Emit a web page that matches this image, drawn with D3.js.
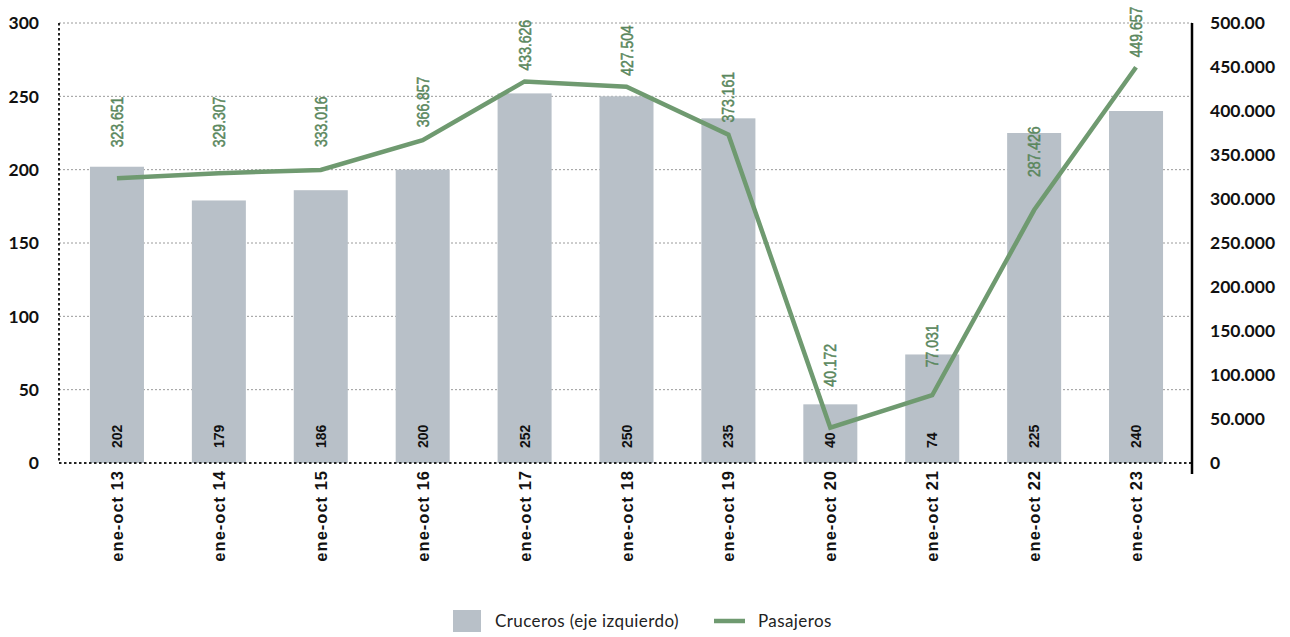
<!DOCTYPE html>
<html><head><meta charset="utf-8">
<script src="https://cdn.jsdelivr.net/npm/d3@7"></script>
<style>body{margin:0;background:#fff}svg{display:block}</style>
</head><body>
<svg id="c" width="1290" height="637"></svg>
<script>
const categories = ["ene-oct 13","ene-oct 14","ene-oct 15","ene-oct 16","ene-oct 17","ene-oct 18","ene-oct 19","ene-oct 20","ene-oct 21","ene-oct 22","ene-oct 23"];
const cruceros = [202,179,186,200,252,250,235,40,74,225,240];
const pasajeros = [323651,329307,333016,366857,433626,427504,373161,40172,77031,287426,449657];
const leftTicks = [0,50,100,150,200,250,300];
const rightTicks = [0,50000,100000,150000,200000,250000,300000,350000,400000,450000,500000];
const rightTickLabels = ["0","50.000","100.000","150.000","200.000","250.000","300.000","350.000","400.000","450.000","500.00"];

const svg = d3.select("#c");
const x0 = 59, x1 = 1192, yTop = 23, yBot = 463;
const x = d3.scaleBand().domain(categories).range([66,1187]).paddingInner(0.47).paddingOuter(0.235);
const yL = d3.scaleLinear().domain([0,300]).range([yBot,yTop]);
const yR = d3.scaleLinear().domain([0,500000]).range([yBot,yTop]);
const fmt = v => d3.format(",")(v).replace(/,/g,".");
const green = "#6f9a70", labGreen = "#5a875d", barC = "#b8c0c8";
const axisFont = "Lato, 'Noto Sans', sans-serif";

// gridlines
svg.append("g").selectAll("line").data(leftTicks.filter(d=>d>0)).join("line")
  .attr("x1",x0).attr("x2",x1).attr("y1",d=>yL(d)).attr("y2",d=>yL(d))
  .attr("stroke","#9a9a9a").attr("stroke-width",1).attr("stroke-dasharray","2,2");

// bars
svg.append("g").selectAll("rect").data(cruceros).join("rect")
  .attr("x",(d,i)=>x(categories[i])).attr("width",x.bandwidth())
  .attr("y",d=>yL(d)).attr("height",d=>yBot-yL(d)).attr("fill",barC);

// axes lines
svg.append("line").attr("x1",x0).attr("x2",x0).attr("y1",yTop).attr("y2",yBot)
  .attr("stroke","#222").attr("stroke-width",2).attr("stroke-dasharray","2.5,2.5");
svg.append("line").attr("x1",x0).attr("x2",x1).attr("y1",yBot).attr("y2",yBot)
  .attr("stroke","#222").attr("stroke-width",2).attr("stroke-dasharray","2.5,2.5");
svg.append("line").attr("x1",x1).attr("x2",x1).attr("y1",yTop).attr("y2",474)
  .attr("stroke","#000").attr("stroke-width",2.5);

// left axis labels
svg.append("g").selectAll("text").data(leftTicks).join("text")
  .attr("x",39).attr("y",d=>yL(d)).attr("dy","0.36em").attr("text-anchor","end")
  .attr("font-family",axisFont).attr("font-weight","bold").attr("font-size",17.5).attr("fill","#111")
  .text(d=>d);
// right axis labels
svg.append("g").selectAll("text").data(rightTicks).join("text")
  .attr("x",1210).attr("y",d=>yR(d)).attr("dy","0.36em").attr("text-anchor","start")
  .attr("font-family",axisFont).attr("font-weight","bold").attr("font-size",17.5).attr("fill","#111")
  .text((d,i)=>rightTickLabels[i]);

// category labels
const cx = c => x(c)+x.bandwidth()/2;
svg.append("g").selectAll("text").data(categories).join("text")
  .attr("transform",d=>`translate(${cx(d)+6},470) rotate(-90)`)
  .attr("text-anchor","end")
  .attr("font-family","'Liberation Sans', Arial, sans-serif").attr("font-weight","bold")
  .attr("font-size",16.5).attr("letter-spacing",1).attr("fill","#111")
  .text(d=>d);

// bar value labels
svg.append("g").selectAll("text").data(cruceros).join("text")
  .attr("transform",(d,i)=>`translate(${cx(categories[i])+5},448) rotate(-90)`)
  .attr("text-anchor","start")
  .attr("font-family","'Liberation Sans', Arial, sans-serif").attr("font-weight","bold").attr("font-size",14).attr("fill","#111")
  .text(d=>d);

// line
const line = d3.line().x((d,i)=>cx(categories[i])).y(d=>yR(d));
svg.append("path").datum(pasajeros).attr("d",line).attr("fill","none")
  .attr("stroke",green).attr("stroke-width",4.5).attr("stroke-linejoin","miter");

// passenger labels
const labelGap = [31,26,23,13,11,11,12,41,28,33,10];
svg.append("g").selectAll("text").data(pasajeros).join("text")
  .attr("transform",(d,i)=>`translate(${cx(categories[i])+6},${yR(d)-labelGap[i]}) rotate(-90) scale(1,1.18)`)
  .attr("text-anchor","start")
  .attr("font-family","'Liberation Sans', Arial, sans-serif")
  .attr("font-size",14).attr("fill",labGreen)
  .attr("stroke",labGreen).attr("stroke-width",0.45)
  .text(d=>fmt(d));

// legend
const lg = svg.append("g");
lg.append("rect").attr("x",453).attr("y",610).attr("width",28).attr("height",22).attr("fill",barC);
lg.append("text").attr("x",495).attr("y",621).attr("dy","0.36em")
  .attr("font-family",axisFont).attr("font-size",17).attr("letter-spacing",0.4).attr("fill","#222").text("Cruceros (eje izquierdo)");
lg.append("line").attr("x1",714).attr("x2",745).attr("y1",621).attr("y2",621)
  .attr("stroke",green).attr("stroke-width",4.5);
lg.append("text").attr("x",758).attr("y",621).attr("dy","0.36em")
  .attr("font-family",axisFont).attr("font-size",17).attr("letter-spacing",0.4).attr("fill","#222").text("Pasajeros");
</script>
</body></html>
